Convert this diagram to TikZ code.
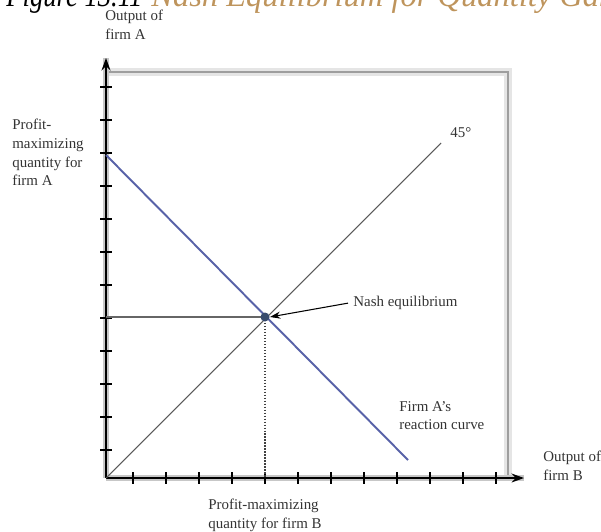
\documentclass[tikz,border=0pt]{standalone}
\usepackage{fontspec}
\usepackage{graphicx}
\setmainfont{Liberation Serif}
\usetikzlibrary{arrows.meta}
\definecolor{titlegold}{RGB}{190,148,92}
\definecolor{reactblue}{RGB}{88,98,168}
\definecolor{nashdot}{RGB}{55,75,110}
\tikzset{
  lbl/.style={inner sep=0pt, anchor=north west, align=left, text=black!80,
    font=\fontsize{8.5}{10.6}\selectfont},
  titletext/.style={inner sep=0pt, anchor=base west, font=\fontsize{18.5}{20}\selectfont\itshape},
  axisline/.style={line width=1.3pt, black},
  axisblur/.style={line width=3.2pt, black!22},
  framelight/.style={line width=4.5pt, black!10},
  framedark/.style={line width=1.3pt, black!38},
  tickmark/.style={line width=0.8pt, black},
}
\begin{document}
\begin{tikzpicture}[x=0.02cm, y=-0.02cm]
\useasboundingbox (0,0) rectangle (601,531);
\begin{scope}
\clip (0,0) rectangle (601,531);
\node[titletext] (fig) at (6,6.5) {\scalebox{0.82}[1]{Figure 13.11}};
\node[titletext, text=titlegold] (title) at (151,6.5) {Nash Equilibrium for Quantity Game};
\end{scope}
% coordinates
\coordinate (O) at (106,478);
\coordinate (ytop) at (106,58);
\coordinate (xend) at (524,478);
\coordinate (fTL) at (106,72);
\coordinate (fTR) at (508,72);
\coordinate (fBR) at (508,478);
% frame
\draw[framelight] (fTL) -- (fTR) -- (fBR);
\draw[framedark] (fTL) -- (fTR) -- (fBR);
% axes
\draw[axisblur] (O) -- (ytop);
\draw[axisblur] (O) -- (xend);
\draw[axisline, -{Stealth[length=7pt,width=5pt]}] (O) -- (ytop);
\draw[axisline, -{Stealth[length=7pt,width=5pt]}] (O) -- (xend);
\foreach \k in {0,...,11} {
  \draw[tickmark] ({133+33*\k},472) -- ({133+33*\k},484);
  \draw[tickmark] (100,{450-33*\k}) -- (112,{450-33*\k});
}
% lines
\coordinate (N) at (265,317);
\coordinate (a0) at (106,155);
\coordinate (a1) at (408,460);
\coordinate (d1) at (441,143);
\coordinate (hN) at (106,317);
\coordinate (vN) at (265,478);
\draw[line width=0.6pt, black!65] (O) -- (d1);
\draw[line width=0.6pt, black!60] (hN) -- (N);
\draw[line width=0.7pt, black!75, densely dotted] (N) -- (vN);
\draw[line width=1.1pt, reactblue] (a0) -- (a1);
\node[circle, fill=nashdot, minimum size=0.18cm, inner sep=0pt] (nash) at (N) {};
% labels
\node[lbl] (outA) at (105,10) {Output of\\firm A};
\node[lbl] (pmA) at (12,119) {Profit-\\maximizing\\quantity for\\firm A};
\node[lbl] (deg) at (450,127) {45°};
\node[lbl] (nashlbl) at (353,296) {Nash equilibrium};
\node[lbl] (react) at (399,401) {Firm A's\\reaction curve};
\node[lbl] (outB) at (543,451) {Output of\\firm B};
\node[lbl] (pmB) at (208,499) {Profit-maximizing\\quantity for firm B};
\draw[line width=0.6pt, black, -{Stealth[length=6pt,width=4pt]}] (nashlbl.west) ++(-5,0) -- (nash.east);
\end{tikzpicture}
\end{document}
